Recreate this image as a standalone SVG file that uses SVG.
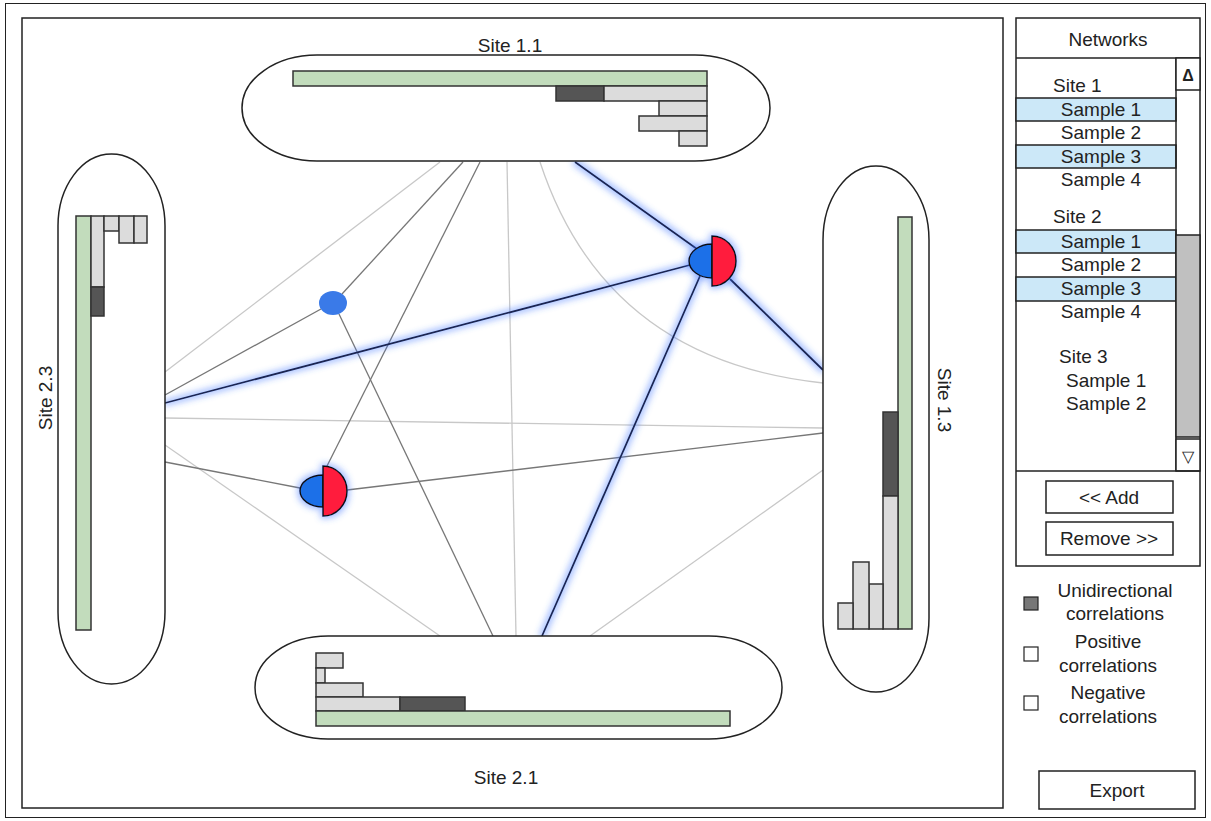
<svg xmlns="http://www.w3.org/2000/svg" width="1211" height="821" viewBox="0 0 1211 821">
<defs>
<style>
.t{font-family:"Liberation Sans",Arial,sans-serif;font-size:19px;fill:#222;}
.m{text-anchor:middle;}
.pill{fill:#fff;stroke:#222;stroke-width:1.5;}
.g{fill:#c2dcbc;stroke:#333;stroke-width:1.5;}
.l{fill:#dcdcdc;stroke:#333;stroke-width:1.5;}
.d{fill:#555;stroke:#333;stroke-width:1.5;}
.box{fill:#fff;stroke:#222;stroke-width:1.5;}
.hl{fill:#cce8f8;stroke:#222;stroke-width:1.5;}
.lt{fill:none;stroke:#c8c8c8;stroke-width:1.3;}
.md{fill:none;stroke:#777;stroke-width:1.3;}
.nv{fill:none;stroke:#1b2550;stroke-width:1.8;}
.blue{fill:#1f6fe8;stroke:#111;stroke-width:1.5;}
.red{fill:#ff1a3c;stroke:#111;stroke-width:1.5;}
</style>
<filter id="glow" filterUnits="userSpaceOnUse" x="0" y="0" width="1211" height="821">
<feMorphology in="SourceAlpha" operator="dilate" radius="2" result="dl"/>
<feGaussianBlur in="dl" stdDeviation="3" result="b"/>
<feFlood flood-color="#3a72ff" flood-opacity="0.45"/>
<feComposite in2="b" operator="in" result="gl"/>
<feMerge><feMergeNode in="gl"/><feMergeNode in="SourceGraphic"/></feMerge>
</filter>
</defs>
<rect x="5.5" y="3.5" width="1200" height="814" fill="#fff" stroke="#222" stroke-width="1"/>
<rect x="22" y="18" width="981" height="790" fill="#fff" stroke="#222" stroke-width="1.5"/>

<g id="connectors">
<path class="lt" d="M165,372 L440,162"/>
<path class="lt" d="M165,418 L823,428"/>
<path class="lt" d="M165,445 L440,636"/>
<path class="lt" d="M507,162 L516,636"/>
<path class="lt" d="M540,162 Q605,360 823,383"/>
<path class="lt" d="M823,470 L590,636"/>
<path class="md" d="M165,395 L321,309"/>
<path class="md" d="M342,294 L463,162"/>
<path class="md" d="M339,314 L493,636"/>
<path class="md" d="M480,162 L326,468"/>
<path class="md" d="M165,462 L300,488"/>
<path class="md" d="M347,490 L823,433"/>
<g filter="url(#glow)">
<path class="nv" d="M575,162 L697,249"/>
<path class="nv" d="M165,403 L690,265"/>
<path class="nv" d="M700,276 L542,636"/>
<path class="nv" d="M730,279 L823,370"/>
</g>
</g>

<g id="site-1-1">
<rect class="pill" x="242" y="55" width="528" height="106" rx="75" ry="53"/>
<rect class="g" x="293" y="71" width="414" height="15"/>
<rect class="d" x="556" y="86" width="48" height="15"/>
<rect class="l" x="604" y="86" width="103" height="15"/>
<rect class="l" x="659" y="101" width="48" height="15"/>
<rect class="l" x="639" y="116" width="68" height="15"/>
<rect class="l" x="679" y="131" width="28" height="15"/>
<text class="t m" x="510" y="52">Site 1.1</text>
</g>

<g id="site-2-1">
<rect class="pill" x="255" y="636" width="527" height="103" rx="73" ry="51.5"/>
<rect class="l" x="316" y="653" width="27" height="15"/>
<rect class="l" x="316" y="668" width="9" height="15"/>
<rect class="l" x="316" y="683" width="47" height="14"/>
<rect class="l" x="316" y="697" width="84" height="14"/>
<rect class="d" x="400" y="697" width="65" height="14"/>
<rect class="g" x="316" y="711" width="414" height="15"/>
<text class="t m" x="506" y="784">Site 2.1</text>
</g>

<g id="site-2-3">
<rect class="pill" x="58" y="154" width="107" height="530" rx="53.5" ry="72"/>
<rect class="g" x="76" y="216" width="15" height="414"/>
<rect class="l" x="91" y="216" width="13" height="71"/>
<rect class="d" x="91" y="287" width="13" height="29"/>
<rect class="l" x="104" y="216" width="15" height="15"/>
<rect class="l" x="119" y="216" width="15" height="27"/>
<rect class="l" x="134" y="216" width="13" height="27"/>
<text class="t m" transform="translate(52,398) rotate(-90)">Site 2.3</text>
</g>

<g id="site-1-3">
<rect class="pill" x="823" y="166" width="106" height="526" rx="53" ry="74"/>
<rect class="g" x="898" y="217" width="14" height="412"/>
<rect class="d" x="883" y="412" width="15" height="84"/>
<rect class="l" x="883" y="496" width="15" height="133"/>
<rect class="l" x="869" y="584" width="14" height="45"/>
<rect class="l" x="853" y="562" width="16" height="67"/>
<rect class="l" x="838" y="603" width="15" height="26"/>
<text class="t m" transform="translate(938,400) rotate(90)">Site 1.3</text>
</g>

<g id="node-blue">
<ellipse cx="333" cy="303" rx="14" ry="12" fill="#3a7ae8"/>
</g>

<g id="node-split-1" filter="url(#glow)">
<path class="blue" d="M712,244 A23,17 0 0 0 712,278 Z"/>
<path class="red" d="M712,236 A24,25 0 0 1 712,286 Z"/>
</g>

<g id="node-split-2" filter="url(#glow)">
<path class="blue" d="M323,475 A23,16 0 0 0 323,507 Z"/>
<path class="red" d="M323,466 A24,25 0 0 1 323,516 Z"/>
</g>

<g id="networks-panel">
<rect class="box" x="1016" y="18" width="184" height="548"/>
<line x1="1016" y1="58" x2="1200" y2="58" stroke="#222" stroke-width="1.5"/>
<text class="t m" x="1108" y="46">Networks</text>
<rect class="hl" x="1016" y="98" width="160" height="23"/>
<rect class="hl" x="1016" y="145" width="160" height="23"/>
<rect class="hl" x="1016" y="230" width="160" height="23"/>
<rect class="hl" x="1016" y="277" width="160" height="24"/>
<text class="t" x="1053" y="92">Site 1</text>
<text class="t m" x="1101" y="116">Sample 1</text>
<text class="t m" x="1101" y="139">Sample 2</text>
<text class="t m" x="1101" y="163">Sample 3</text>
<text class="t m" x="1101" y="186">Sample 4</text>
<text class="t" x="1053" y="223">Site 2</text>
<text class="t m" x="1101" y="248">Sample 1</text>
<text class="t m" x="1101" y="271">Sample 2</text>
<text class="t m" x="1101" y="295">Sample 3</text>
<text class="t m" x="1101" y="318">Sample 4</text>
<text class="t" x="1059" y="363">Site 3</text>
<text class="t" x="1066" y="387">Sample 1</text>
<text class="t" x="1066" y="410">Sample 2</text>
<line x1="1176" y1="58" x2="1176" y2="471" stroke="#222" stroke-width="1.5"/>
<rect class="box" x="1176" y="58" width="24" height="32"/>
<text class="t m" x="1188" y="81" style="font-size:16px;font-weight:bold">Δ</text>
<rect x="1176" y="235" width="24" height="202" fill="#c0c0c0" stroke="#222" stroke-width="1.5"/>
<rect class="box" x="1176" y="439" width="24" height="32"/>
<text class="t m" x="1188" y="462" style="font-size:16px">▽</text>
<line x1="1016" y1="471" x2="1200" y2="471" stroke="#222" stroke-width="1.5"/>
</g>

<g id="btn-add">
<rect class="box" x="1046" y="481" width="127" height="32"/>
<text class="t m" x="1109" y="504">&lt;&lt; Add</text>
</g>
<g id="btn-remove">
<rect class="box" x="1046" y="522" width="127" height="33"/>
<text class="t m" x="1109" y="545">Remove &gt;&gt;</text>
</g>

<g id="legend">
<rect x="1024" y="597" width="14" height="13" fill="#777" stroke="#222" stroke-width="1.2"/>
<text class="t m" x="1115" y="597">Unidirectional</text>
<text class="t m" x="1115" y="620">correlations</text>
<rect x="1024" y="647" width="14" height="14" fill="#fff" stroke="#222" stroke-width="1.2"/>
<text class="t m" x="1108" y="648">Positive</text>
<text class="t m" x="1108" y="672">correlations</text>
<rect x="1024" y="696" width="14" height="14" fill="#fff" stroke="#222" stroke-width="1.2"/>
<text class="t m" x="1108" y="699">Negative</text>
<text class="t m" x="1108" y="723">correlations</text>
</g>

<g id="btn-export">
<rect class="box" x="1039" y="771" width="156" height="38"/>
<text class="t m" x="1117" y="797">Export</text>
</g>
</svg>
